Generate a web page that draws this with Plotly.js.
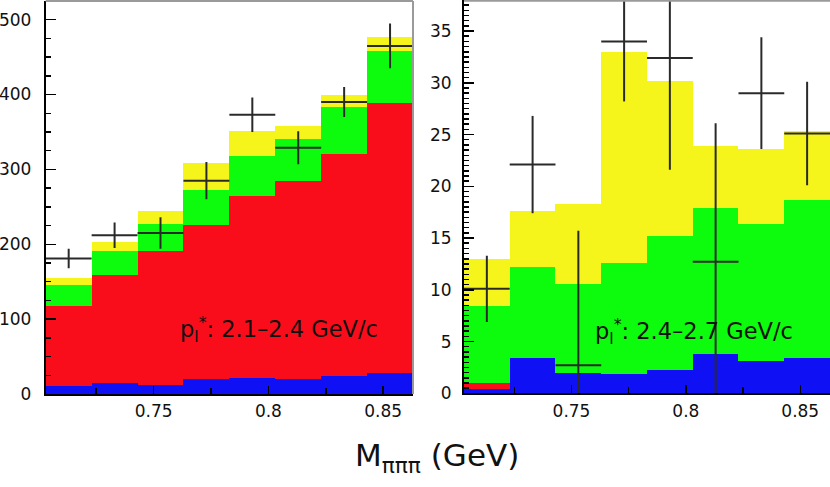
<!DOCTYPE html>
<html>
<head>
<meta charset="utf-8">
<script src="https://cdn.plot.ly/plotly-3.0.1.min.js"></script>
<style>html,body{margin:0;padding:0;background:#fff;}#chart{width:830px;height:487px;}</style>
</head>
<body>
<div id="chart"></div>
<script>
// Bin centres (GeV), bin width 0.02
var binCenters = [0.713, 0.733, 0.753, 0.773, 0.793, 0.813, 0.833, 0.853];
var binWidth = 0.02;

// Left panel: p*_l 2.1-2.4 GeV/c (stacked components)
var blueL   = [10, 15, 12.5, 20, 22, 20, 24, 28];
var redL    = [108, 144, 178, 206, 242, 264, 297, 361];
var greenL  = [27, 32, 36, 46, 54, 57, 62, 69];
var yellowL = [10, 12, 18, 36, 33, 17, 17, 19];
var dataL   = [181, 212, 215, 285, 373, 329, 390, 465];
var errL    = [13, 17, 21, 25, 23, 22, 20, 30];

// Right panel: p*_l 2.4-2.7 GeV/c (stacked components)
var blueR   = [0.4, 3.4, 2.0, 1.9, 2.3, 3.8, 3.1, 3.4];
var redR    = [0.55, 0, 0, 0, 0, 0, 0, 0];
var greenR  = [7.45, 8.8, 8.55, 10.7, 12.9, 14.15, 13.3, 15.3];
var yellowR = [4.6, 5.4, 7.75, 20.4, 15.0, 5.95, 7.2, 6.6];
var dataR   = [10.1, 22.1, 2.7, 34.0, 32.4, 12.7, 29.0, 25.1];
var errR    = [3.2, 4.7, 13.0, 5.8, 10.8, 13.4, 5.4, 5.0];

var xTickVals = [0.75, 0.8, 0.85];
var xTickText = ['0.75', '0.8', '0.85'];
var labelL = 'p<sub>l</sub><sup>*</sup>: 2.1–2.4 GeV/c';
var labelR = 'p<sub>l</sub><sup>*</sup>: 2.4–2.7 GeV/c';
var xTitle = 'M<sub>πππ</sub> (GeV)';

var colors = {blue: '#1010f5', red: '#f90d1b', green: '#0dfc0d', yellow: '#f5f51c'};

function barTrace(vals, color, xa, ya) {
  return {type: 'bar', x: binCenters, y: vals, width: binWidth, xaxis: xa, yaxis: ya,
          marker: {color: color, line: {width: 0}}, hoverinfo: 'skip', showlegend: false};
}
function dataTrace(vals, errs, xa, ya) {
  return {type: 'scatter', mode: 'markers', x: binCenters, y: vals, xaxis: xa, yaxis: ya,
          marker: {size: 1, color: '#2a2a2a'},
          error_y: {type: 'data', array: errs, visible: true, width: 0, thickness: 2, color: '#2a2a2a'},
          error_x: {type: 'constant', value: binWidth / 2, visible: true, width: 0, thickness: 2, color: '#2a2a2a'},
          showlegend: false, hoverinfo: 'skip'};
}

var traces = [
  barTrace(blueL, colors.blue, 'x', 'y'),
  barTrace(redL, colors.red, 'x', 'y'),
  barTrace(greenL, colors.green, 'x', 'y'),
  barTrace(yellowL, colors.yellow, 'x', 'y'),
  dataTrace(dataL, errL, 'x', 'y'),
  barTrace(blueR, colors.blue, 'x2', 'y2'),
  barTrace(redR, colors.red, 'x2', 'y2'),
  barTrace(greenR, colors.green, 'x2', 'y2'),
  barTrace(yellowR, colors.yellow, 'x2', 'y2'),
  dataTrace(dataR, errR, 'x2', 'y2')
];

var tickFont = {family: 'DejaVu Sans, sans-serif', size: 17, color: '#111'};

function xAxis(domain, anchor) {
  return {domain: domain, anchor: anchor, range: [0.703, 0.863], showgrid: false, zeroline: false,
          showline: true, linecolor: '#000', linewidth: 2,
          ticks: 'inside', ticklen: 8, tickwidth: 1.5, tickcolor: '#000',
          tickvals: xTickVals, ticktext: xTickText, tickfont: tickFont, ticklabelstandoff: 1,
          minor: {tickvals: [0.725, 0.775, 0.825], ticks: 'inside', ticklen: 6, tickwidth: 1.5, tickcolor: '#000'},
          fixedrange: true};
}
function yAxis(domain, anchor, range, dtick, mdtick, standoff) {
  return {domain: domain, anchor: anchor, range: range, showgrid: false, zeroline: false,
          showline: true, linecolor: '#000', linewidth: 2,
          ticks: 'inside', ticklen: 10, tickwidth: 1.5, tickcolor: '#000',
          dtick: dtick, tick0: 0, tickfont: tickFont, ticklabelstandoff: standoff,
          minor: {dtick: mdtick, ticks: 'inside', ticklen: 5, tickwidth: 1.5, tickcolor: '#000'},
          fixedrange: true};
}

var layout = {
  width: 830, height: 487,
  margin: {l: 0, r: 0, t: 0, b: 0},
  paper_bgcolor: '#fff', plot_bgcolor: '#fff',
  barmode: 'stack', bargap: 0,
  xaxis: xAxis([0.0551, 0.4976], 'y'),
  yaxis: yAxis([0.1910, 0.998], 'x', [0, 525], 100, 25, 9),
  xaxis2: xAxis([0.5590, 1.0], 'y2'),
  yaxis2: yAxis([0.1924, 1.0], 'x2', [0, 38], 5, 0.5, 7),
  shapes: [
    {type: 'line', xref: 'x domain', yref: 'y domain', x0: 0, x1: 1, y0: 1, y1: 1, line: {color: '#9a9a9a', width: 2}},
    {type: 'line', xref: 'x domain', yref: 'y domain', x0: 1, x1: 1, y0: 0, y1: 1, line: {color: '#9a9a9a', width: 2}},
    {type: 'line', xref: 'x2 domain', yref: 'y2 domain', x0: 0, x1: 1, y0: 0.998, y1: 0.998, line: {color: '#9a9a9a', width: 2}}
  ],
  annotations: [
    {text: labelL, xref: 'paper', yref: 'paper', x: 178 / 830, y: (487 - 329) / 487, xanchor: 'left', yanchor: 'middle',
     showarrow: false, font: {family: 'DejaVu Sans, sans-serif', size: 22.5, color: '#111'}},
    {text: labelR, xref: 'paper', yref: 'paper', x: 593 / 830, y: (487 - 331) / 487, xanchor: 'left', yanchor: 'middle',
     showarrow: false, font: {family: 'DejaVu Sans, sans-serif', size: 22.5, color: '#111'}},
    {text: xTitle, xref: 'paper', yref: 'paper', x: 437 / 830, y: (487 - 457) / 487, xanchor: 'center', yanchor: 'middle',
     showarrow: false, font: {family: 'DejaVu Sans, sans-serif', size: 31, color: '#111'}}
  ]
};

Plotly.newPlot('chart', traces, layout, {displayModeBar: false, staticPlot: true});
</script>
</body>
</html>
